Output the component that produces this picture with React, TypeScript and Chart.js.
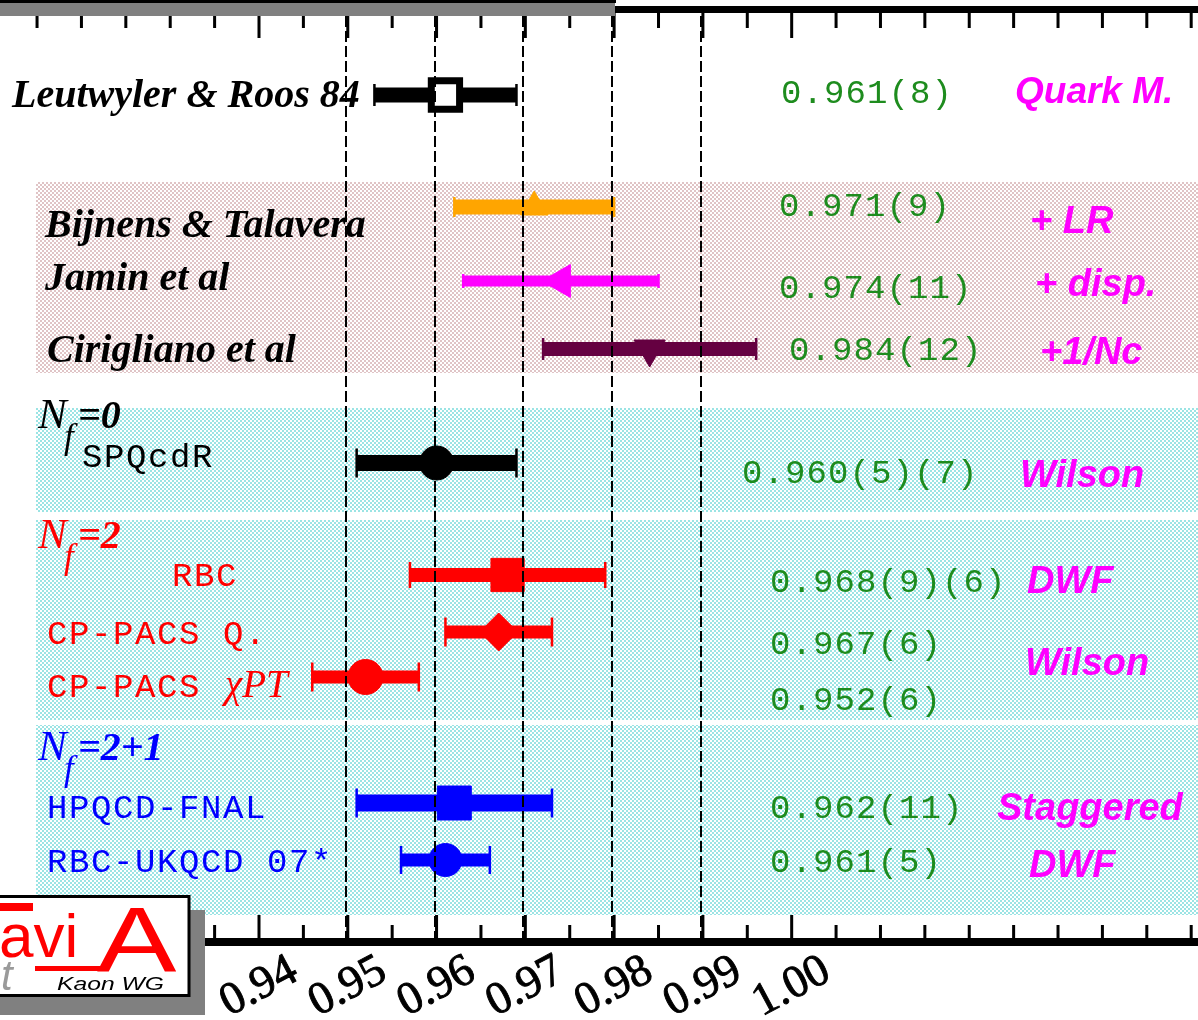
import React, { useEffect, useRef } from "react";
import { Chart, registerables } from "chart.js";

Chart.register(...registerables);

// ---------------- data ----------------
const studies = [
  "Leutwyler & Roos 84",
  "Bijnens & Talavera",
  "Jamin et al",
  "Cirigliano et al",
  "SPQcdR",
  "RBC",
  "CP-PACS Q.",
  "CP-PACS χPT",
  "HPQCD-FNAL",
  "RBC-UKQCD 07*",
];
const centralValues = [0.961, 0.971, 0.974, 0.984, 0.96, 0.968, 0.967, 0.952, 0.962, 0.961];
const errors = [0.008, 0.009, 0.011, 0.012, 0.009, 0.011, 0.006, 0.006, 0.011, 0.005];
const quotedResults = [
  "0.961(8)",
  "0.971(9)",
  "0.974(11)",
  "0.984(12)",
  "0.960(5)(7)",
  "0.968(9)(6)",
  "0.967(6)",
  "0.952(6)",
  "0.962(11)",
  "0.961(5)",
];
const methodLabels = ["Quark M.", "+ LR", "+ disp.", "+1/Nc", "Wilson", "DWF", "Wilson", "Staggered", "DWF"];
const groupSuffix = ["=0", "=2", "=2+1"];
const tickValues = [0.94, 0.95, 0.96, 0.97, 0.98, 0.99, 1.0];
const tickLabels = ["0.94", "0.95", "0.96", "0.97", "0.98", "0.99", "1.00"];
const dashedValues = [0.95, 0.96, 0.97, 0.98, 0.99];

// ---------------- layout & style ----------------
const X_MIN = 0.910827;
const X_MAX = 1.045767;
const rowY = [95, 207, 281, 349, 463, 575, 632, 677, 803, 860];
const barThick = [15, 15, 11, 14, 16, 14, 13, 13, 17, 13];
const capH = [22, 20, 14, 22, 29, 26, 29, 29, 29, 28];
const barColors = ["#000000", "#ffa500", "#ff00ff", "#650041", "#000000", "#ff0000", "#ff0000", "#ff0000", "#0000ff", "#0000ff"];
const markerStyle = ["rect", "triangle", "triangle", "triangle", "circle", "rect", "rectRot", "circle", "rect", "circle"];
const markerRot = [0, 0, -90, 180, 0, 0, 0, 0, 0, 0];
const markerRadius = [20, 16, 19, 18, 17, 23.5, 19, 17.5, 24, 16.5];
const markerFill = ["#ffffff", "#ffa500", "#ff00ff", "#650041", "#000000", "#ff0000", "#ff0000", "#ff0000", "#0000ff", "#0000ff"];
const markerBorder = ["#000000", "#ffa500", "#ff00ff", "#650041", "#000000", "#ff0000", "#ff0000", "#ff0000", "#0000ff", "#0000ff"];
const markerBorderW = [7, 1, 1, 1, 1, 1, 1, 1, 1, 1];

const studyLabelPos = [
  [12, 107], [45, 237], [45, 290], [47, 362],
  [82, 467], [172, 586], [47, 644], [47, 697], [47, 818], [47, 872],
];
const studyLabelKind = ["serif", "serif", "serif", "serif", "mono", "mono", "mono", "mono", "mono", "mono"];
const studyLabelColor = ["#000", "#000", "#000", "#000", "#000", "#ff0000", "#ff0000", "#ff0000", "#0000ff", "#0000ff"];
const quotedPos = [
  [781, 103], [779, 216], [779, 298], [789, 360], [742, 483],
  [770, 592], [770, 654], [770, 710], [770, 818], [770, 872],
];
const methodPos = [
  [1015, 103], [1030, 233], [1035, 296], [1040, 364], [1020, 487],
  [1027, 593], [1025, 675], [997, 820], [1029, 877],
];
const groupPos = [428, 548, 760];
const groupColor = ["#000000", "#ff0000", "#0000ff"];
const bands = [
  { from: 182, to: 373, kind: "pink" },
  { from: 408, to: 512, kind: "cyan" },
  { from: 520, to: 720, kind: "cyan" },
  { from: 725, to: 915, kind: "cyan" },
];

const MONO = '34px "Liberation Mono"';
const SERIF_BI = 'bold italic 40px "Liberation Serif"';
const SANS_BI = 'bold italic 38px "Liberation Sans"';

export default function App() {
  const ref = useRef<HTMLCanvasElement>(null);

  useEffect(() => {
    const canvas = ref.current!;
    const ctx0 = canvas.getContext("2d")!;
    const makePattern = (dot: string) => {
      const c = document.createElement("canvas");
      c.width = 4;
      c.height = 4;
      const g = c.getContext("2d")!;
      g.fillStyle = "#ffffff";
      g.fillRect(0, 0, 4, 4);
      g.fillStyle = dot;
      g.fillRect(0, 0, 2, 2);
      g.fillRect(2, 2, 2, 2);
      return ctx0.createPattern(c, "repeat")!;
    };
    const pinkPat = makePattern("rgb(224,196,198)");
    const cyanPat = makePattern("rgb(155,228,228)");

    const drawText = (ctx: CanvasRenderingContext2D, t: string, x: number, y: number, font: string, color: string, spacing = "0px") => {
      ctx.font = font;
      ctx.fillStyle = color;
      (ctx as any).letterSpacing = spacing;
      ctx.fillText(t, x, y);
      (ctx as any).letterSpacing = "0px";
    };

    const plugin = {
      id: "kl3deco",
      beforeDraw(chart: any) {
        const { ctx } = chart;
        const ys = chart.scales.y;
        ctx.save();
        ctx.fillStyle = "#ffffff";
        ctx.fillRect(0, 0, chart.width, chart.height);
        bands.forEach((b) => {
          const t = ys.getPixelForValue(b.from);
          const bt = ys.getPixelForValue(b.to);
          ctx.fillStyle = b.kind === "pink" ? pinkPat : cyanPat;
          ctx.fillRect(36, t, chart.width - 36, bt - t);
        });
        ctx.restore();
      },
      beforeDatasetsDraw(chart: any) {
        const { ctx } = chart;
        const xs = chart.scales.x;
        const ys = chart.scales.y;
        ctx.save();
        centralValues.forEach((v, i) => {
          const x1 = xs.getPixelForValue(v - errors[i]);
          const x2 = xs.getPixelForValue(v + errors[i]);
          const y = ys.getPixelForValue(rowY[i]);
          ctx.fillStyle = barColors[i];
          ctx.fillRect(x1, y - barThick[i] / 2, x2 - x1, barThick[i]);
          ctx.fillRect(x1 - 1.25, y - capH[i] / 2, 2.5, capH[i]);
          ctx.fillRect(x2 - 1.25, y - capH[i] / 2, 2.5, capH[i]);
        });
        ctx.restore();
      },
      afterDatasetsDraw(chart: any) {
        const { ctx } = chart;
        const xs = chart.scales.x;
        ctx.save();
        ctx.textBaseline = "alphabetic";
        ctx.textAlign = "left";

        // study labels
        studies.forEach((s, i) => {
          const [x, y] = studyLabelPos[i];
          if (studyLabelKind[i] === "serif") {
            drawText(ctx, s, x, y, SERIF_BI, studyLabelColor[i]);
          } else {
            const k = s.indexOf("χ");
            if (k >= 0) {
              const a = s.slice(0, k);
              drawText(ctx, a, x, y, MONO, studyLabelColor[i], "1.6px");
              ctx.font = MONO;
              (ctx as any).letterSpacing = "1.6px";
              const w = ctx.measureText(a).width;
              (ctx as any).letterSpacing = "0px";
              drawText(ctx, s.slice(k), x + w + 2, y, 'italic 39px "Liberation Serif"', studyLabelColor[i]);
            } else {
              drawText(ctx, s, x, y, MONO, studyLabelColor[i], "1.6px");
            }
          }
        });

        // group headings N_f = ...
        groupSuffix.forEach((g, i) => {
          const y = groupPos[i];
          const c = groupColor[i];
          drawText(ctx, "N", 38, y, 'italic 43px "Liberation Serif"', c);
          drawText(ctx, "f", 64, y + 20, 'italic 35px "Liberation Serif"', c);
          drawText(ctx, g, 78, y, 'bold italic 40px "Liberation Serif"', c);
        });

        // quoted results (green)
        quotedResults.forEach((q, i) => {
          const [x, y] = quotedPos[i];
          drawText(ctx, q, x, y, MONO, "#1e8c1e", "1.1px");
        });
        // method labels (magenta)
        methodLabels.forEach((m, i) => {
          const [x, y] = methodPos[i];
          drawText(ctx, m, x, y, i === 0 ? 'bold italic 37px "Liberation Sans"' : SANS_BI, "#ff00ff");
        });

        // dashed reference lines
        ctx.strokeStyle = "#000";
        ctx.lineWidth = 2;
        ctx.setLineDash([11, 4]);
        dashedValues.forEach((v) => {
          const x = Math.round(xs.getPixelForValue(v)) - 2;
          ctx.beginPath();
          ctx.moveTo(x, 16);
          ctx.lineTo(x, 938);
          ctx.stroke();
        });
        ctx.setLineDash([]);

        // axes: ticks
        ctx.fillStyle = "#000";
        for (let k = 183; k <= 209; k++) {
          const v = k * 0.005;
          const x = xs.getPixelForValue(v);
          const long = k % 2 === 0 && k >= 188 && k <= 200;
          ctx.fillRect(x - 1.5, 13, 3, long ? 25 : 15);
          if (k >= 187) ctx.fillRect(x - 1.5, long ? 915 : 925, 3, long ? 25 : 15);
        }
        // top axis line & grey bar
        ctx.fillRect(612, 6, chart.width - 612, 7);
        ctx.fillStyle = "#808080";
        ctx.fillRect(0, 3, 615, 13);
        ctx.fillStyle = "#000";
        ctx.fillRect(0, 0, 616, 3);
        // bottom axis line
        ctx.fillRect(205, 938, chart.width - 205, 8);

        // tick labels
        ctx.font = '46px "Liberation Serif"';
        ctx.textAlign = "center";
        ctx.textBaseline = "middle";
        ctx.lineWidth = 0.9;
        ctx.strokeStyle = "#000";
        tickValues.forEach((v, i) => {
          const x = xs.getPixelForValue(v);
          ctx.save();
          ctx.translate(x, 987);
          ctx.rotate((-28 * Math.PI) / 180);
          ctx.fillStyle = "#000";
          ctx.fillText(tickLabels[i], 0, 0);
          ctx.strokeText(tickLabels[i], 0, 0);
          ctx.restore();
        });
        ctx.textAlign = "left";
        ctx.textBaseline = "alphabetic";

        // logo
        ctx.fillStyle = "#808080";
        ctx.fillRect(0, 910, 205, 105);
        ctx.fillStyle = "#ffffff";
        ctx.fillRect(0, 895, 189, 102);
        ctx.strokeStyle = "#000";
        ctx.lineWidth = 3;
        ctx.strokeRect(-5, 896.5, 194, 99);
        ctx.fillStyle = "#ff0000";
        ctx.fillRect(0, 903, 33, 8);
        drawText(ctx, "avi", -1, 957, '62px "Liberation Sans"', "#ff0000");
        ctx.fillRect(35, 966, 68, 5);
        ctx.save();
        ctx.translate(97, 972);
        ctx.scale(1.28, 1);
        drawText(ctx, "A", 0, 0, '93px "Liberation Sans"', "#ff0000");
        ctx.restore();
        drawText(ctx, "t", 1, 990, 'italic 42px "Liberation Sans"', "#9a9a9a");
        ctx.save();
        ctx.translate(57, 990);
        ctx.scale(1.3, 1);
        drawText(ctx, "Kaon WG", 0, 0, 'italic 19px "Liberation Sans"', "#000");
        ctx.restore();

        ctx.restore();
      },
    };

    const chart = new Chart(canvas, {
      type: "scatter",
      data: {
        datasets: [
          {
            data: centralValues.map((v, i) => ({ x: v, y: rowY[i] })),
            pointStyle: markerStyle as any,
            pointRotation: markerRot,
            pointRadius: markerRadius,
            pointHoverRadius: markerRadius,
            pointBackgroundColor: markerFill,
            pointBorderColor: markerBorder,
            pointBorderWidth: markerBorderW,
            clip: false,
          } as any,
        ],
      },
      options: {
        animation: false,
        responsive: false,
        devicePixelRatio: 1,
        layout: { padding: 0, autoPadding: false } as any,
        events: [],
        plugins: { legend: { display: false }, tooltip: { enabled: false } },
        scales: {
          x: { type: "linear", min: X_MIN, max: X_MAX, display: false },
          y: { type: "linear", min: 0, max: 1020, reverse: true, display: false },
        },
      },
      plugins: [plugin],
    });
    return () => chart.destroy();
  }, []);

  return (
    <div style={{ position: "fixed", left: 0, top: 0, width: 1198, height: 1020, background: "#fff" }}>
      <canvas ref={ref} width={1198} height={1020} style={{ display: "block", width: 1198, height: 1020 }} />
    </div>
  );
}
